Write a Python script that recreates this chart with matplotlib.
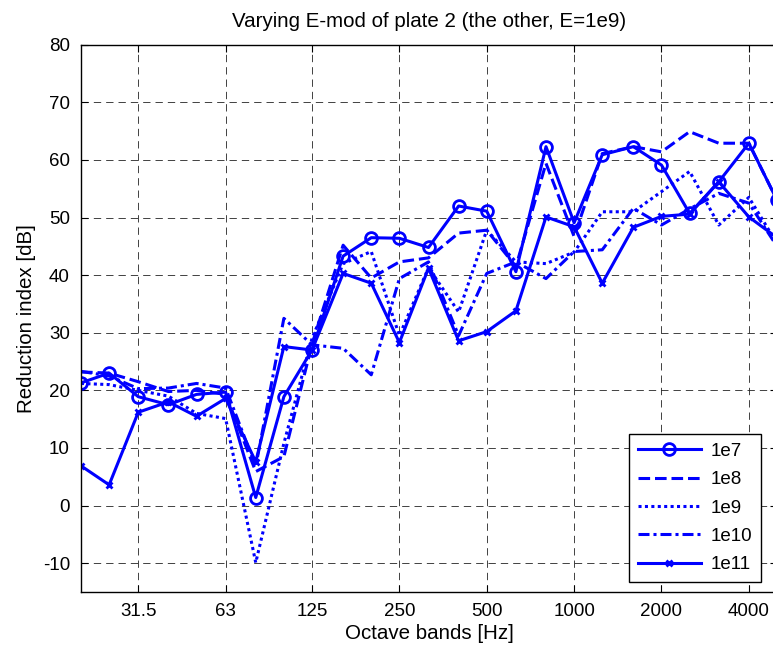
import matplotlib
matplotlib.use("Agg")
import matplotlib.pyplot as plt
from matplotlib.ticker import FixedLocator, FixedFormatter, NullLocator

plt.rcParams.update({
    "font.family": ["Liberation Sans", "DejaVu Sans"],
    "font.size": 13.5,
    "axes.unicode_minus": False,
})

# third-octave band centre frequencies [Hz]
freqs = [20, 25, 31.5, 40, 50, 63, 80, 100, 125, 160, 200, 250, 315, 400, 500,
         630, 800, 1000, 1250, 1600, 2000, 2500, 3150, 4000, 5000]

# reduction index [dB] for each E-modulus of plate 2
r_1e7 = [21.3, 23.0, 18.9, 17.5, 19.3, 19.7, 1.4, 18.9, 27.0, 43.3, 46.5, 46.4, 44.8,
         52.0, 51.1, 40.6, 62.3, 49.1, 60.9, 62.3, 59.1, 50.7, 56.2, 62.9, 53.0]
r_1e8 = [23.2, 23.0, 21.5, 19.8, 20.0, 19.3, 5.9, 8.5, 28.0, 45.2, 39.5, 42.3, 43.0,
         47.3, 47.8, 41.5, 59.4, 46.7, 61.1, 62.3, 61.4, 64.9, 62.9, 62.9, 53.0]
r_1e9 = [21.2, 21.0, 20.0, 19.0, 16.0, 15.1, -9.9, 10.8, 29.0, 42.0, 44.1, 29.5, 41.3,
         33.6, 47.8, 42.3, 42.0, 44.0, 51.0, 51.0, 54.5, 58.0, 48.7, 53.5, 45.5]
r_1e10 = [23.3, 22.5, 20.3, 20.4, 21.2, 20.4, 6.8, 32.5, 27.9, 27.3, 22.7, 39.4, 42.3,
          29.5, 40.3, 42.3, 39.4, 44.1, 44.4, 51.6, 48.7, 51.5, 54.2, 52.5, 45.0]
r_1e11 = [6.9, 3.6, 16.2, 18.0, 15.5, 18.6, 7.6, 27.6, 27.0, 40.3, 38.6, 28.3, 41.2,
          28.6, 30.2, 33.8, 50.1, 48.4, 38.6, 48.3, 50.2, 50.6, 56.2, 50.1, 46.5]

labels = ["1e7", "1e8", "1e9", "1e10", "1e11"]
xtick_vals = [31.5, 63, 125, 250, 500, 1000, 2000, 4000]
xtick_text = ["31.5", "63", "125", "250", "500", "1000", "2000", "4000"]
ytick_vals = list(range(-10, 81, 10))

blue = "#0000ff"
fig = plt.figure(figsize=(7.73, 6.51), dpi=100)
# axes runs a bit past the right edge, as in the original export
ax = fig.add_axes([81/773, 59/651, 696/773, 547.3/651])

lw = 2.2
ax.plot(freqs, r_1e7, "-", color=blue, lw=lw, marker="o", ms=8.5, mfc="none",
        mew=2.0, label=labels[0])
ax.plot(freqs, r_1e8, color=blue, lw=lw, ls=(0, (3.8, 1.6)), label=labels[1])
ax.plot(freqs, r_1e9, color=blue, lw=lw, ls=(0, (1, 1.1)), label=labels[2])
ax.plot(freqs, r_1e10, color=blue, lw=lw, ls=(0, (3.6, 1.3, 1, 1.3)), label=labels[3])
ax.plot(freqs, r_1e11, "-", color=blue, lw=lw, marker="x", ms=5, mew=2.0,
        label=labels[4])

ax.set_xscale("log")
ax.set_xlim(20, 5000)
ax.set_ylim(-15, 80)
ax.xaxis.set_major_locator(FixedLocator(xtick_vals))
ax.xaxis.set_major_formatter(FixedFormatter(xtick_text))
ax.xaxis.set_minor_locator(NullLocator())
ax.set_yticks(ytick_vals)
ax.tick_params(direction="in", length=5, width=0.8, top=True, right=True,
               pad=8, labelsize=13.5)

ax.grid(True, color="#222222", lw=0.6, ls=(0, (8.8, 6)))
ax.set_axisbelow(True)
for s in ax.spines.values():
    s.set_linewidth(1.0)

ax.set_title("Varying E-mod of plate 2 (the other, E=1e9)", fontsize=14.8, pad=13)
ax.set_xlabel("Octave bands [Hz]", fontsize=14.8, labelpad=3)
ax.set_ylabel("Reduction index [dB]", fontsize=14.8, labelpad=5)

leg = ax.legend(loc="lower right", bbox_to_anchor=(760.7/773, 69.3/651),
                bbox_transform=fig.transFigure, borderaxespad=0, frameon=True,
                fancybox=False, framealpha=1, edgecolor="black",
                handlelength=3.4, handletextpad=0.5, labelspacing=0.6,
                borderpad=0.45, fontsize=13.5)
leg.get_frame().set_linewidth(1.0)

fig.savefig("out.png", dpi=100)
